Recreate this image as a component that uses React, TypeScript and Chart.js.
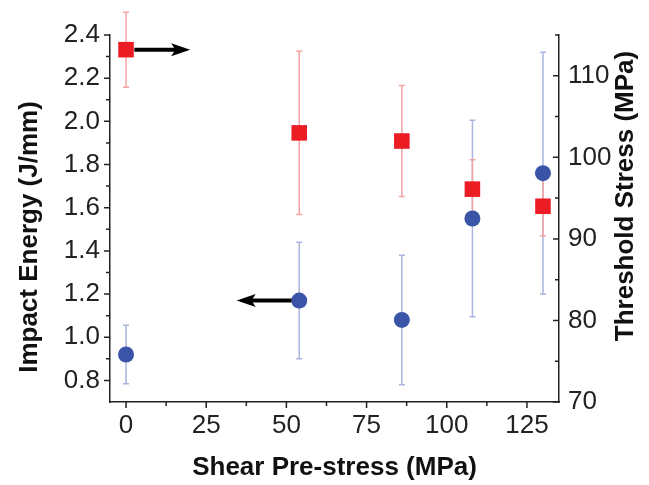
import React, { useEffect, useRef } from 'react';
import { Chart, registerables } from 'chart.js';

Chart.register(...registerables);

// ---- data ----
const shearPreStress = [0, 54, 86, 108, 130];
const impactEnergy = [0.92, 1.17, 1.08, 1.55, 1.76];
const impactEnergyErr = [0.135, 0.27, 0.3, 0.455, 0.56];
const thresholdStress = [113.2, 103.0, 102.0, 96.1, 94.0];
const thresholdStressErr = [4.6, 10.0, 6.8, 3.6, 3.6];

const xTickValues = [0, 25, 50, 75, 100, 125];
const xMinorTicks = [12.5, 37.5, 62.5, 87.5, 112.5];
const leftTickValues = [0.8, 1.0, 1.2, 1.4, 1.6, 1.8, 2.0, 2.2, 2.4];
const leftMinorTicks = [0.9, 1.1, 1.3, 1.5, 1.7, 1.9, 2.1, 2.3];
const rightTickValues = [70, 80, 90, 100, 110];
const rightMinorTicks = [75, 85, 95, 105, 115];

const arrowAxis = ['y1', 'y'];
const arrowStartX = [2.6, 51.6];
const arrowEndX = [20, 34.5];
const arrowY = [113.2, 1.17];

const xTitle = 'Shear Pre-stress (MPa)';
const leftTitle = 'Impact Energy (J/mm)';
const rightTitle = 'Threshold Stress (MPa)';

const FAMILY = '"Liberation Sans", Arial, Helvetica, sans-serif';
const AXIS_COLOR = '#222';
const BLUE = '#3a55a8';
const RED = '#ec1c24';
const BLUE_ERR = '#aab4de';
const RED_ERR = '#f6a3a3';

const decorPlugin = {
  id: 'decor',
  beforeDatasetsDraw(chart: any) {
    const ctx = chart.ctx;
    const xs = chart.scales.x;
    const drawErr = (vals: number[], errs: number[], scale: any, color: string) => {
      ctx.save();
      ctx.strokeStyle = color;
      ctx.lineWidth = 1.5;
      vals.forEach((v, i) => {
        const px = xs.getPixelForValue(shearPreStress[i]);
        const top = scale.getPixelForValue(v + errs[i]);
        const bot = scale.getPixelForValue(v - errs[i]);
        ctx.beginPath();
        ctx.moveTo(px, top);
        ctx.lineTo(px, bot);
        ctx.moveTo(px - 3, top);
        ctx.lineTo(px + 3, top);
        ctx.moveTo(px - 3, bot);
        ctx.lineTo(px + 3, bot);
        ctx.stroke();
      });
      ctx.restore();
    };
    drawErr(impactEnergy, impactEnergyErr, chart.scales.y, BLUE_ERR);
    drawErr(thresholdStress, thresholdStressErr, chart.scales.y1, RED_ERR);
  },
  afterDatasetsDraw(chart: any) {
    const ctx = chart.ctx;
    const xs = chart.scales.x;
    ctx.save();
    ctx.fillStyle = '#000';
    ctx.strokeStyle = '#000';
    arrowAxis.forEach((ax, i) => {
      const ys = chart.scales[ax];
      const y = ys.getPixelForValue(arrowY[i]);
      const x0 = xs.getPixelForValue(arrowStartX[i]);
      const x1 = xs.getPixelForValue(arrowEndX[i]);
      const dir = Math.sign(x1 - x0);
      const headLen = 19;
      const half = 6.5;
      ctx.lineWidth = 4;
      ctx.beginPath();
      ctx.moveTo(x0, y);
      ctx.lineTo(x1 - dir * headLen * 0.7, y);
      ctx.stroke();
      ctx.beginPath();
      ctx.moveTo(x1, y);
      ctx.lineTo(x1 - dir * headLen, y - half);
      ctx.lineTo(x1 - dir * headLen * 0.78, y);
      ctx.lineTo(x1 - dir * headLen, y + half);
      ctx.closePath();
      ctx.fill();
    });
    ctx.restore();
  },
  afterDraw(chart: any) {
    const ctx = chart.ctx;
    const area = chart.chartArea;
    const xs = chart.scales.x;
    const yl = chart.scales.y;
    const yr = chart.scales.y1;
    const MAJ = 6;
    const MIN = 4;
    ctx.save();
    ctx.strokeStyle = AXIS_COLOR;
    ctx.lineWidth = 1.5;
    ctx.beginPath();
    const xTick = (v: number, len: number) => {
      const p = xs.getPixelForValue(v);
      ctx.moveTo(p, area.bottom);
      ctx.lineTo(p, area.bottom + len);
    };
    const lTick = (v: number, len: number) => {
      const p = yl.getPixelForValue(v);
      ctx.moveTo(area.left - len, p);
      ctx.lineTo(area.left, p);
    };
    const rTick = (v: number, len: number) => {
      const p = yr.getPixelForValue(v);
      ctx.moveTo(area.right - len, p);
      ctx.lineTo(area.right, p);
    };
    xTickValues.forEach((v) => xTick(v, MAJ));
    xMinorTicks.forEach((v) => xTick(v, MIN));
    leftTickValues.forEach((v) => lTick(v, MAJ));
    leftMinorTicks.forEach((v) => lTick(v, MIN));
    rightTickValues.forEach((v) => rTick(v, MAJ));
    rightMinorTicks.forEach((v) => rTick(v, MIN));
    ctx.stroke();

    // vertical axis titles (both read bottom-to-top)
    ctx.fillStyle = '#111';
    ctx.font = `bold 26px ${FAMILY}`;
    ctx.textAlign = 'center';
    ctx.textBaseline = 'middle';
    ctx.save();
    ctx.translate(30, 237);
    ctx.rotate(-Math.PI / 2);
    ctx.fillText(leftTitle, 0, 0);
    ctx.restore();
    ctx.save();
    ctx.translate(626, 196);
    ctx.rotate(-Math.PI / 2);
    ctx.fillText(rightTitle, 0, 0);
    ctx.restore();
    ctx.restore();
  },
};

const tickFont = { size: 26, family: FAMILY };

export default function App() {
  const ref = useRef<HTMLCanvasElement>(null);
  useEffect(() => {
    const chart = new Chart(ref.current as HTMLCanvasElement, {
      type: 'scatter',
      data: {
        datasets: [
          {
            label: leftTitle,
            data: shearPreStress.map((x, i) => ({ x, y: impactEnergy[i] })),
            yAxisID: 'y',
            pointStyle: 'circle',
            pointRadius: 8,
            pointBackgroundColor: BLUE,
            pointBorderColor: BLUE,
            pointBorderWidth: 0,
            clip: false,
          },
          {
            label: rightTitle,
            data: shearPreStress.map((x, i) => ({ x, y: thresholdStress[i] })),
            yAxisID: 'y1',
            pointStyle: 'rect',
            pointRadius: 11,
            pointBackgroundColor: RED,
            pointBorderColor: RED,
            pointBorderWidth: 0,
            clip: false,
          },
        ],
      } as any,
      options: {
        animation: false,
        responsive: false,
        maintainAspectRatio: false,
        layout: { padding: { top: 35, left: 0, right: 0, bottom: 0 } },
        plugins: {
          legend: { display: false },
          tooltip: { enabled: false },
          title: { display: false },
        },
        events: [],
        scales: {
          x: {
            type: 'linear',
            position: 'bottom',
            min: -5,
            max: 135,
            afterBuildTicks: (s: any) => {
              s.ticks = xTickValues.map((v) => ({ value: v }));
            },
            afterFit: (s: any) => {
              s.height = 83;
            },
            grid: { display: false, drawTicks: false },
            border: { display: true, color: AXIS_COLOR, width: 1.5 },
            ticks: {
              font: tickFont,
              color: '#222',
              padding: 8,
              maxRotation: 0,
              autoSkip: false,
              callback: (v: any) => String(v),
            },
            title: {
              display: true,
              text: xTitle,
              color: '#111',
              font: { size: 26, weight: 'bold', family: FAMILY },
              padding: { top: 0, bottom: 2 },
            },
          },
          y: {
            type: 'linear',
            position: 'left',
            min: 0.7,
            max: 2.4,
            afterBuildTicks: (s: any) => {
              s.ticks = leftTickValues.map((v) => ({ value: v }));
            },
            afterFit: (s: any) => {
              s.width = 110;
            },
            grid: { display: false, drawTicks: false },
            border: { display: true, color: AXIS_COLOR, width: 1.5 },
            ticks: {
              font: tickFont,
              color: '#222',
              padding: 10,
              autoSkip: false,
              callback: (v: any) => Number(v).toFixed(1),
            },
          },
          y1: {
            type: 'linear',
            position: 'right',
            min: 70,
            max: 115,
            afterBuildTicks: (s: any) => {
              s.ticks = rightTickValues.map((v) => ({ value: v }));
            },
            afterFit: (s: any) => {
              s.width = 90;
            },
            grid: { display: false, drawTicks: false },
            border: { display: true, color: AXIS_COLOR, width: 1.5 },
            ticks: {
              font: tickFont,
              color: '#222',
              padding: 9,
              autoSkip: false,
              callback: (v: any) => String(Math.round(Number(v))),
            },
          },
        },
      } as any,
      plugins: [decorPlugin as any],
    });
    return () => chart.destroy();
  }, []);
  return (
    <div style={{ position: 'absolute', left: 0, top: 0, width: 649, height: 485, background: '#fff' }}>
      <canvas ref={ref} width={649} height={485} style={{ display: 'block', width: 649, height: 485 }} />
    </div>
  );
}
